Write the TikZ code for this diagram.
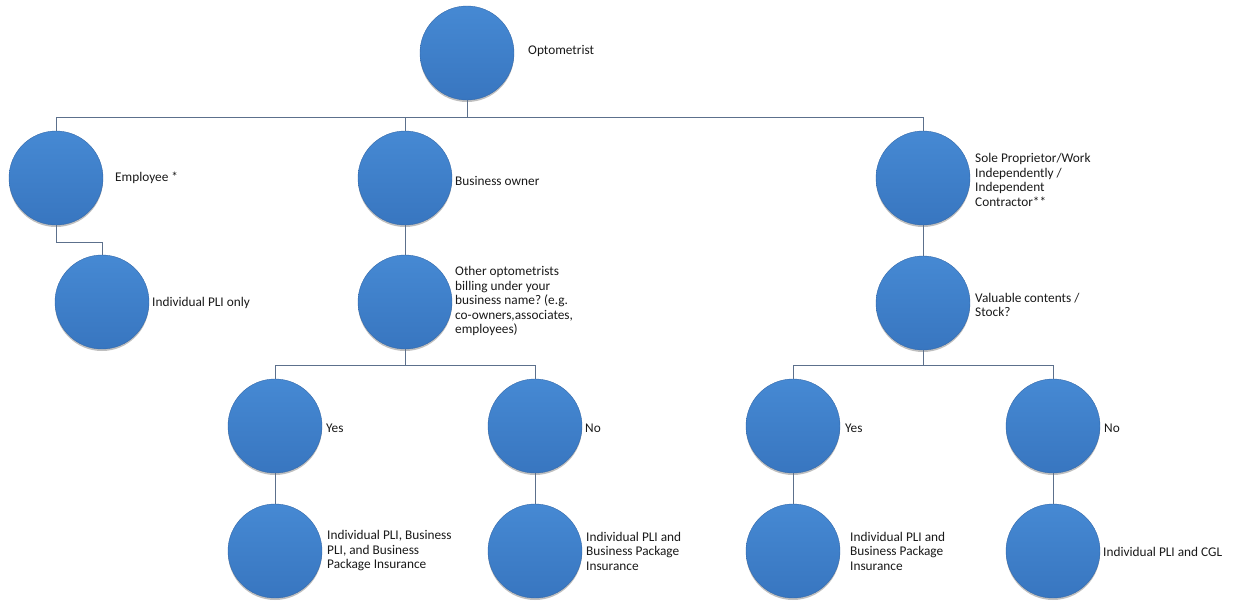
\documentclass[tikz,border=0pt]{standalone}
\usepackage{fontspec}
\setmainfont{Carlito}
\usetikzlibrary{shadows}
\definecolor{circtop}{RGB}{70,137,211}
\definecolor{circbot}{RGB}{56,118,192}
\definecolor{circedge}{RGB}{52,105,170}
\definecolor{linkcol}{RGB}{92,112,140}
\definecolor{txtcol}{RGB}{25,25,25}
\tikzset{
  bubble/.style={circle, minimum size=94pt, inner sep=0pt, top color=circtop, bottom color=circbot, draw=circedge, line width=0.4pt,
    drop shadow={shadow xshift=0pt, shadow yshift=-2pt, opacity=0.25, fill=black}},
  lbl/.style={anchor=west, inner sep=0pt, align=left, text=txtcol, font=\frenchspacing\fontsize{13.3}{14.5}\selectfont},
  link/.style={draw=linkcol, line width=0.8pt}
}
\begin{document}
\begin{tikzpicture}[x=1pt,y=-1pt]
\useasboundingbox (0,0) rectangle (1234,600);
% circles
\node[bubble] (opt) at (467,53) {};
\node[bubble] (emp) at (56,178) {};
\node[bubble] (bo) at (405,178) {};
\node[bubble] (sole) at (923,178) {};
\node[bubble] (ipli) at (102,302) {};
\node[bubble] (other) at (405,302) {};
\node[bubble] (val) at (923,303) {};
\node[bubble] (yes1) at (275,426) {};
\node[bubble] (no1) at (535,426) {};
\node[bubble] (yes2) at (793,426) {};
\node[bubble] (no2) at (1053,426) {};
\node[bubble] (b1) at (275,551) {};
\node[bubble] (b2) at (535,551) {};
\node[bubble] (b3) at (793,551) {};
\node[bubble] (b4) at (1053,551) {};
% labels
\node[lbl] (topt) at (528,51) {Optometrist};
\node[lbl] (temp) at (115,178) {Employee *};
\node[lbl] (tbo) at (455,181) {Business owner};
\node[lbl] (tsole) at (975,180) {Sole Proprietor/Work\\Independently /\\Independent\\Contractor**};
\node[lbl] (tipli) at (152,303) {Individual PLI only};
\node[lbl] (tother) at (455,301) {Other optometrists\\billing under your\\business name? (e.g.\\co-owners,associates,\\employees)};
\node[lbl] (tval) at (975,305) {Valuable contents /\\Stock?};
\node[lbl] (tyes1) at (326,428) {Yes};
\node[lbl] (tno1) at (585,428) {No};
\node[lbl] (tyes2) at (845,428) {Yes};
\node[lbl] (tno2) at (1104,428) {No};
\node[lbl] (tb1) at (327,551) {Individual PLI, Business\\PLI, and Business\\Package Insurance};
\node[lbl] (tb2) at (586,551) {Individual PLI and\\Business Package\\Insurance};
\node[lbl] (tb3) at (850,551) {Individual PLI and\\Business Package\\Insurance};
\node[lbl] (tb4) at (1103,552) {Individual PLI and CGL};
% bar coordinates
\coordinate (bar1) at (0,117);
\coordinate (bar2) at (0,242);
\coordinate (bar3) at (0,365);
% connectors
\path[link] (opt.south) -- (opt.south |- bar1);
\path[link] (emp.north) |- (bar1 -| sole.north) -- (sole.north);
\path[link] (bo.north) -- (bo.north |- bar1);
\path[link] (emp.south) -- (emp.south |- bar2) -| (ipli.north);
\path[link] (bo.south) -- (other.north);
\path[link] (sole.south) -- (val.north);
\path[link] (other.south) -- (other.south |- bar3);
\path[link] (yes1.north) |- (bar3 -| no1.north) -- (no1.north);
\path[link] (val.south) -- (val.south |- bar3);
\path[link] (yes2.north) |- (bar3 -| no2.north) -- (no2.north);
\path[link] (yes1.south) -- (b1.north);
\path[link] (no1.south) -- (b2.north);
\path[link] (yes2.south) -- (b3.north);
\path[link] (no2.south) -- (b4.north);
\end{tikzpicture}
\end{document}
